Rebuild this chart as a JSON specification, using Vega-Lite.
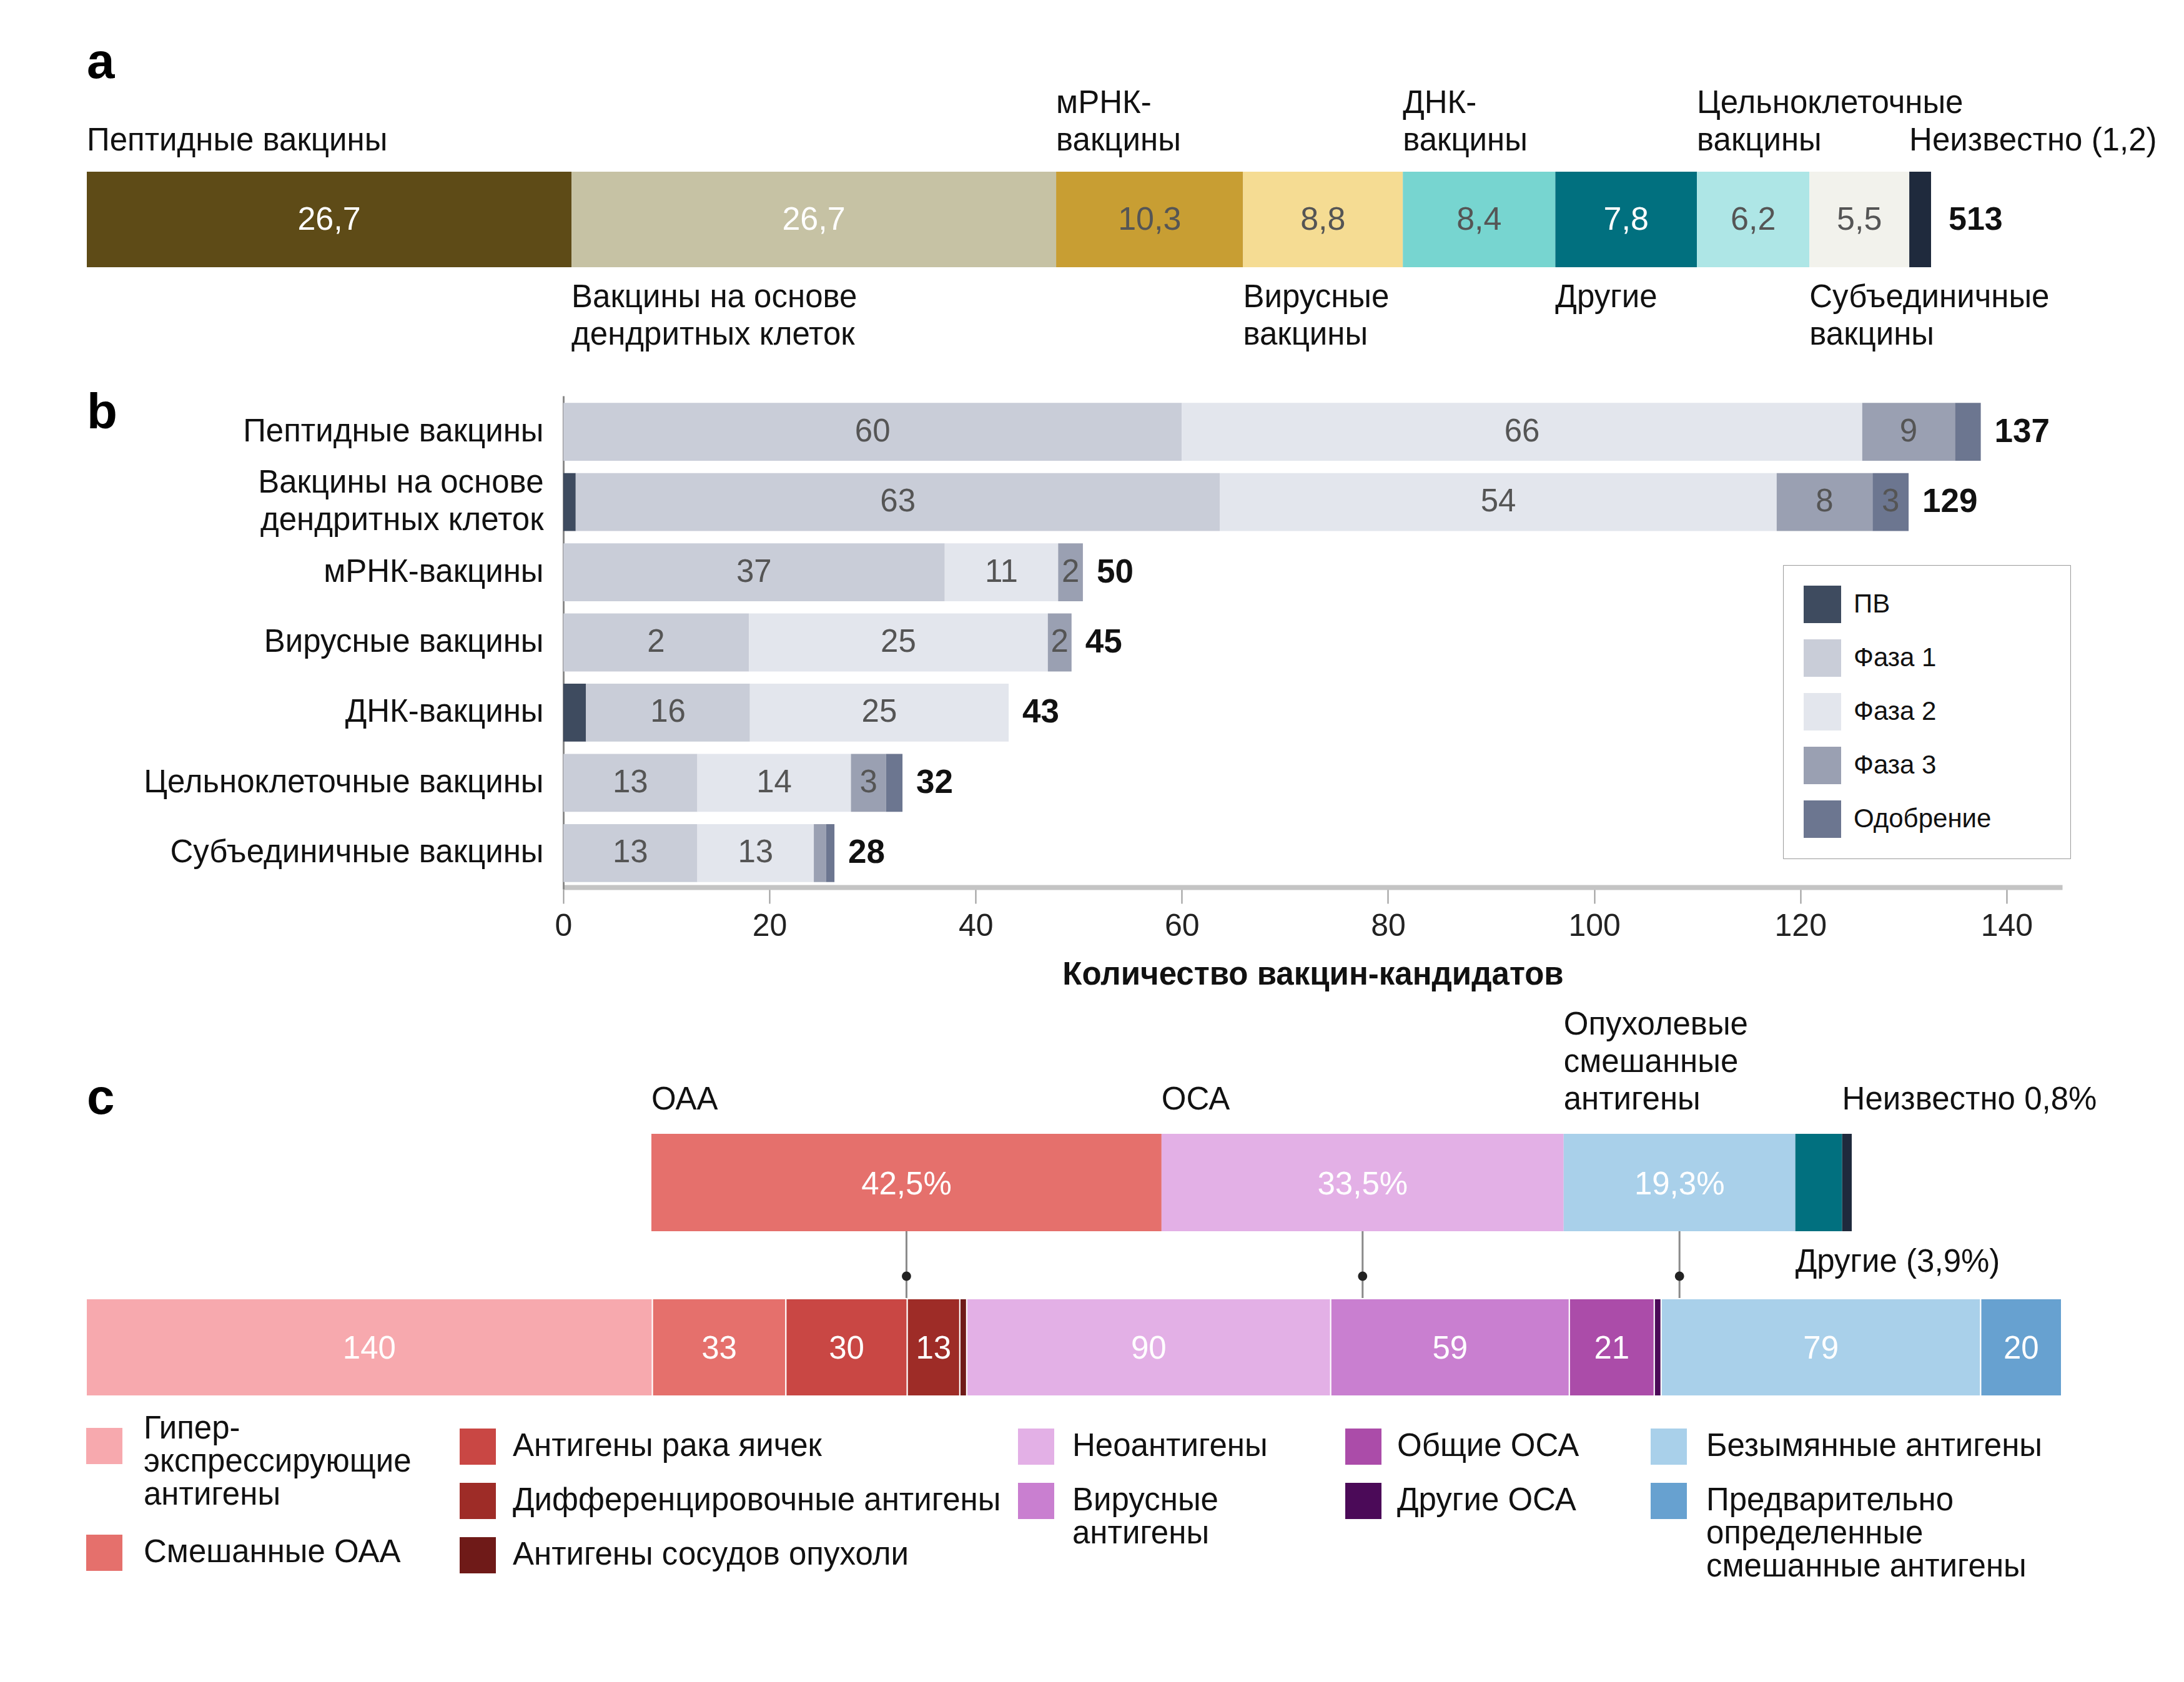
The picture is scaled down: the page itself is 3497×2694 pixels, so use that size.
{
  "$schema": "https://vega.github.io/schema/vega-lite/v6.json",
  "width": 3497,
  "height": 2694,
  "padding": 0,
  "autosize": {"type": "none"},
  "background": "white",
  "config": {
    "view": {"stroke": null},
    "font": "Liberation Sans",
    "text": {"font": "Liberation Sans", "fontSize": 51, "lineHeight": 60},
    "axis": {"labelFont": "Liberation Sans", "titleFont": "Liberation Sans"},
    "legend": {"labelFont": "Liberation Sans", "labelLimit": 3000}
  },
  "datasets": {
    "a": [
      {"name": "Пептидные вакцины", "pct": 26.7, "k": 1, "lab": "26,7", "top": "Пептидные вакцины", "top2": "", "bot": ""},
      {"name": "Вакцины на основе дендритных клеток", "pct": 26.7, "k": 2, "lab": "26,7", "top": "", "top2": "", "bot": "Вакцины на основе\nдендритных клеток"},
      {"name": "мРНК-вакцины", "pct": 10.3, "k": 3, "lab": "10,3", "top": "вакцины", "top2": "мРНК-", "bot": ""},
      {"name": "Вирусные вакцины", "pct": 8.8, "k": 4, "lab": "8,8", "top": "", "top2": "", "bot": "Вирусные\nвакцины"},
      {"name": "ДНК-вакцины", "pct": 8.4, "k": 5, "lab": "8,4", "top": "вакцины", "top2": "ДНК-", "bot": ""},
      {"name": "Другие", "pct": 7.8, "k": 6, "lab": "7,8", "top": "", "top2": "", "bot": "Другие"},
      {"name": "Цельноклеточные вакцины", "pct": 6.2, "k": 7, "lab": "6,2", "top": "вакцины", "top2": "Цельноклеточные", "bot": ""},
      {"name": "Субъединичные вакцины", "pct": 5.5, "k": 8, "lab": "5,5", "top": "", "top2": "", "bot": "Субъединичные\nвакцины"},
      {"name": "Неизвестно", "pct": 1.2, "k": 9, "lab": "", "top": "Неизвестно (1,2)", "top2": "", "bot": ""}
    ],
    "b": [
      {"vaccine": "Пептидные вакцины", "phase": "Фаза 1", "k": 1, "value": 60, "label": "60"},
      {"vaccine": "Пептидные вакцины", "phase": "Фаза 2", "k": 2, "value": 66, "label": "66"},
      {"vaccine": "Пептидные вакцины", "phase": "Фаза 3", "k": 3, "value": 9, "label": "9"},
      {"vaccine": "Пептидные вакцины", "phase": "Одобрение", "k": 4, "value": 2.5, "label": ""},
      {"vaccine": "Вакцины на основе дендритных клеток", "phase": "ПВ", "k": 0, "value": 1.2, "label": ""},
      {"vaccine": "Вакцины на основе дендритных клеток", "phase": "Фаза 1", "k": 1, "value": 62.5, "label": "63"},
      {"vaccine": "Вакцины на основе дендритных клеток", "phase": "Фаза 2", "k": 2, "value": 54, "label": "54"},
      {"vaccine": "Вакцины на основе дендритных клеток", "phase": "Фаза 3", "k": 3, "value": 9.3, "label": "8"},
      {"vaccine": "Вакцины на основе дендритных клеток", "phase": "Одобрение", "k": 4, "value": 3.5, "label": "3"},
      {"vaccine": "мРНК-вакцины", "phase": "Фаза 1", "k": 1, "value": 37, "label": "37"},
      {"vaccine": "мРНК-вакцины", "phase": "Фаза 2", "k": 2, "value": 11, "label": "11"},
      {"vaccine": "мРНК-вакцины", "phase": "Фаза 3", "k": 3, "value": 2.4, "label": "2"},
      {"vaccine": "Вирусные вакцины", "phase": "Фаза 1", "k": 1, "value": 18, "label": "2"},
      {"vaccine": "Вирусные вакцины", "phase": "Фаза 2", "k": 2, "value": 29, "label": "25"},
      {"vaccine": "Вирусные вакцины", "phase": "Фаза 3", "k": 3, "value": 2.3, "label": "2"},
      {"vaccine": "ДНК-вакцины", "phase": "ПВ", "k": 0, "value": 2.2, "label": ""},
      {"vaccine": "ДНК-вакцины", "phase": "Фаза 1", "k": 1, "value": 15.9, "label": "16"},
      {"vaccine": "ДНК-вакцины", "phase": "Фаза 2", "k": 2, "value": 25.1, "label": "25"},
      {"vaccine": "Цельноклеточные вакцины", "phase": "Фаза 1", "k": 1, "value": 13, "label": "13"},
      {"vaccine": "Цельноклеточные вакцины", "phase": "Фаза 2", "k": 2, "value": 14.9, "label": "14"},
      {"vaccine": "Цельноклеточные вакцины", "phase": "Фаза 3", "k": 3, "value": 3.4, "label": "3"},
      {"vaccine": "Цельноклеточные вакцины", "phase": "Одобрение", "k": 4, "value": 1.6, "label": ""},
      {"vaccine": "Субъединичные вакцины", "phase": "Фаза 1", "k": 1, "value": 13, "label": "13"},
      {"vaccine": "Субъединичные вакцины", "phase": "Фаза 2", "k": 2, "value": 11.3, "label": "13"},
      {"vaccine": "Субъединичные вакцины", "phase": "Фаза 3", "k": 3, "value": 1.2, "label": ""},
      {"vaccine": "Субъединичные вакцины", "phase": "Одобрение", "k": 4, "value": 0.8, "label": ""}
    ],
    "btot": [
      {"vaccine": "Пептидные вакцины", "total": "137"},
      {"vaccine": "Вакцины на основе дендритных клеток", "total": "129"},
      {"vaccine": "мРНК-вакцины", "total": "50"},
      {"vaccine": "Вирусные вакцины", "total": "45"},
      {"vaccine": "ДНК-вакцины", "total": "43"},
      {"vaccine": "Цельноклеточные вакцины", "total": "32"},
      {"vaccine": "Субъединичные вакцины", "total": "28"}
    ],
    "ct": [
      {"name": "ОАА", "pct": 42.5, "k": 1, "lab": "42,5%", "top": "ОАА", "top2": "", "top3": "", "bot": "", "conn": true},
      {"name": "ОСА", "pct": 33.5, "k": 2, "lab": "33,5%", "top": "ОСА", "top2": "", "top3": "", "bot": "", "conn": true},
      {"name": "Опухолевые смешанные антигены", "pct": 19.3, "k": 3, "lab": "19,3%", "top": "антигены", "top2": "смешанные", "top3": "Опухолевые", "bot": "", "conn": true},
      {"name": "Другие", "pct": 3.9, "k": 4, "lab": "", "top": "", "top2": "", "top3": "", "bot": "Другие (3,9%)", "conn": false},
      {"name": "Неизвестно", "pct": 0.8, "k": 5, "lab": "", "top": "Неизвестно 0,8%", "top2": "", "top3": "", "bot": "", "conn": false}
    ],
    "cb": [
      {"name": "Гипер-экспрессирующие антигены", "n": 140, "k": 1, "lab": "140", "grp": 0},
      {"name": "Смешанные ОАА", "n": 33, "k": 2, "lab": "33", "grp": 1},
      {"name": "Антигены рака яичек", "n": 30, "k": 3, "lab": "30", "grp": 2},
      {"name": "Дифференцировочные антигены", "n": 13, "k": 4, "lab": "13", "grp": 2},
      {"name": "Антигены сосудов опухоли", "n": 1.7, "k": 5, "lab": "", "grp": 2},
      {"name": "Неоантигены", "n": 90, "k": 6, "lab": "90", "grp": 3},
      {"name": "Вирусные антигены", "n": 59, "k": 7, "lab": "59", "grp": 3},
      {"name": "Общие ОСА", "n": 21, "k": 8, "lab": "21", "grp": 4},
      {"name": "Другие ОСА", "n": 1.7, "k": 9, "lab": "", "grp": 4},
      {"name": "Безымянные антигены", "n": 79, "k": 10, "lab": "79", "grp": 5},
      {"name": "Предварительно определенные смешанные антигены", "n": 20, "k": 11, "lab": "20", "grp": 5}
    ]
  },
  "resolve": {"scale": {"x": "independent", "y": "independent", "color": "independent"}},
  "layer": [
    {
      "data": {"name": "a"},
      "layer": [
        {
          "mark": {"type": "bar"},
          "encoding": {
            "x": {"field": "pct", "type": "quantitative", "stack": "zero", "scale": {"domain": [0, 101.6], "range": [139, 3092], "nice": false, "zero": false}, "axis": null},
            "y": {"datum": "a", "type": "nominal", "scale": {"range": [275, 428], "paddingInner": 0, "paddingOuter": 0}, "axis": null},
            "color": {"field": "name", "type": "nominal", "legend": null,
              "scale": {"domain": ["Пептидные вакцины", "Вакцины на основе дендритных клеток", "мРНК-вакцины", "Вирусные вакцины", "ДНК-вакцины", "Другие", "Цельноклеточные вакцины", "Субъединичные вакцины", "Неизвестно"],
                        "range": ["#5e4b17", "#c6c2a4", "#c89e33", "#f5dc93", "#77d5d0", "#01707f", "#aee6e6", "#f2f2ec", "#1f2a3d"]}},
            "order": {"field": "k", "type": "quantitative"}
          }
        },
        {
          "mark": {"type": "text", "fontSize": 52},
          "encoding": {
            "x": {"field": "pct", "type": "quantitative", "stack": "zero", "bandPosition": 0.5},
            "y": {"datum": "a", "type": "nominal"},
            "detail": {"field": "name", "type": "nominal"},
            "order": {"field": "k", "type": "quantitative"},
            "text": {"field": "lab", "type": "nominal"},
            "color": {"condition": {"test": "datum.k <= 2 || datum.k == 6", "value": "#ffffff"}, "value": "#555555"}
          }
        },
        {
          "mark": {"type": "text", "fontSize": 51, "align": "left", "baseline": "bottom", "dy": -100, "color": "#111111"},
          "encoding": {
            "x": {"field": "pct", "type": "quantitative", "stack": "zero", "bandPosition": 0},
            "y": {"datum": "a", "type": "nominal"},
            "detail": {"field": "name", "type": "nominal"},
            "order": {"field": "k", "type": "quantitative"},
            "text": {"field": "top", "type": "nominal"}
          }
        },
        {
          "mark": {"type": "text", "fontSize": 51, "align": "left", "baseline": "bottom", "dy": -160, "color": "#111111"},
          "encoding": {
            "x": {"field": "pct", "type": "quantitative", "stack": "zero", "bandPosition": 0},
            "y": {"datum": "a", "type": "nominal"},
            "detail": {"field": "name", "type": "nominal"},
            "order": {"field": "k", "type": "quantitative"},
            "text": {"field": "top2", "type": "nominal"}
          }
        },
        {
          "mark": {"type": "text", "fontSize": 51, "align": "left", "baseline": "top", "dy": 100, "lineBreak": "\n", "lineHeight": 60, "color": "#111111"},
          "encoding": {
            "x": {"field": "pct", "type": "quantitative", "stack": "zero", "bandPosition": 0},
            "y": {"datum": "a", "type": "nominal"},
            "detail": {"field": "name", "type": "nominal"},
            "order": {"field": "k", "type": "quantitative"},
            "text": {"field": "bot", "type": "nominal"}
          }
        },
        {
          "transform": [{"aggregate": [{"op": "sum", "field": "pct", "as": "tot"}], "groupby": []}],
          "mark": {"type": "text", "fontSize": 52, "fontWeight": "bold", "align": "left", "dx": 28, "color": "#111111"},
          "encoding": {
            "x": {"field": "tot", "type": "quantitative"},
            "y": {"datum": "a", "type": "nominal"},
            "text": {"value": "513"}
          }
        },
        {
          "data": {"values": [{"t": "a"}]},
          "mark": {"type": "text", "fontSize": 80, "fontWeight": "bold", "align": "left", "dy": -251, "color": "#000000"},
          "encoding": {"x": {"datum": 0, "type": "quantitative"}, "y": {"datum": "a", "type": "nominal"}, "text": {"field": "t", "type": "nominal"}}
        },
        {
          "data": {"values": [{"t": "b"}]},
          "mark": {"type": "text", "fontSize": 80, "fontWeight": "bold", "align": "left", "dy": 310, "color": "#000000"},
          "encoding": {"x": {"datum": 0, "type": "quantitative"}, "y": {"datum": "a", "type": "nominal"}, "text": {"field": "t", "type": "nominal"}}
        },
        {
          "data": {"values": [{"t": "c"}]},
          "mark": {"type": "text", "fontSize": 80, "fontWeight": "bold", "align": "left", "dy": 1408, "color": "#000000"},
          "encoding": {"x": {"datum": 0, "type": "quantitative"}, "y": {"datum": "a", "type": "nominal"}, "text": {"field": "t", "type": "nominal"}}
        }
      ]
    },
    {
      "data": {"name": "b"},
      "layer": [
        {
          "mark": {"type": "bar"},
          "encoding": {
            "y": {"field": "vaccine", "type": "nominal", "title": null, "sort": null,
              "scale": {"domain": ["Пептидные вакцины", "Вакцины на основе дендритных клеток", "мРНК-вакцины", "Вирусные вакцины", "ДНК-вакцины", "Цельноклеточные вакцины", "Субъединичные вакцины"], "range": [634, 1424], "paddingInner": 0.175, "paddingOuter": 0.1},
              "axis": {"orient": "left", "offset": -902, "title": null, "ticks": false, "domainColor": "#8a8a8a", "domainWidth": 3, "labelFontSize": 51, "labelColor": "#111111", "labelPadding": 32, "labelLimit": 2000, "labelLineHeight": 60,
                       "labelBaseline": {"condition": {"test": "datum.value == 'Вакцины на основе дендритных клеток'", "value": "line-bottom"}, "value": "middle"},
                       "labelExpr": "datum.value == 'Вакцины на основе дендритных клеток' ? ['Вакцины на основе', 'дендритных клеток'] : datum.label"}},
            "x": {"field": "value", "type": "quantitative", "stack": "zero", "title": "Количество вакцин-кандидатов",
              "scale": {"domain": [0, 145.4], "range": [902, 3302], "nice": false, "zero": false},
              "axis": {"orient": "bottom", "offset": -1273, "values": [0, 20, 40, 60, 80, 100, 120, 140], "grid": false, "domainColor": "#c4c4c4", "domainWidth": 8, "tickColor": "#9a9a9a", "tickWidth": 2, "tickSize": 26, "labelFontSize": 50, "labelColor": "#222222", "labelPadding": 11, "labelFlush": false, "titleFontSize": 51, "titleFontWeight": "bold", "titleColor": "#111111", "titlePadding": 28}},
            "color": {"field": "phase", "type": "nominal",
              "scale": {"domain": ["ПВ", "Фаза 1", "Фаза 2", "Фаза 3", "Одобрение"], "range": ["#3e4b5f", "#c9cdd8", "#e3e6ed", "#9aa0b2", "#6c7690"]},
              "legend": {"orient": "none", "legendX": 2855, "legendY": 905, "direction": "vertical", "title": null, "symbolType": "square", "symbolSize": 3600, "symbolStrokeWidth": 0, "labelFontSize": 42, "labelColor": "#111111", "labelOffset": 20, "rowPadding": 26, "padding": 33, "strokeColor": "#9a9a9a",
                         "labelExpr": "datum.label + '\u2800\u2800\u2800'",
                         "encode": {"legend": {"strokeWidth": {"value": 3}}}}},
            "order": {"field": "k", "type": "quantitative"}
          }
        },
        {
          "mark": {"type": "text", "fontSize": 51, "color": "#555555"},
          "encoding": {
            "x": {"field": "value", "type": "quantitative", "stack": "zero", "bandPosition": 0.5, "title": "Количество вакцин-кандидатов"},
            "y": {"field": "vaccine", "type": "nominal", "title": null, "sort": null, "scale": {"domain": ["Пептидные вакцины", "Вакцины на основе дендритных клеток", "мРНК-вакцины", "Вирусные вакцины", "ДНК-вакцины", "Цельноклеточные вакцины", "Субъединичные вакцины"]}},
            "detail": {"field": "phase", "type": "nominal"},
            "order": {"field": "k", "type": "quantitative"},
            "text": {"field": "label", "type": "nominal"}
          }
        },
        {
          "transform": [
            {"aggregate": [{"op": "sum", "field": "value", "as": "end"}], "groupby": ["vaccine"]},
            {"lookup": "vaccine", "from": {"data": {"name": "btot"}, "key": "vaccine", "fields": ["total"]}}
          ],
          "mark": {"type": "text", "fontSize": 53, "fontWeight": "bold", "align": "left", "dx": 22, "color": "#111111"},
          "encoding": {
            "x": {"field": "end", "type": "quantitative", "title": "Количество вакцин-кандидатов"},
            "y": {"field": "vaccine", "type": "nominal", "title": null, "sort": null, "scale": {"domain": ["Пептидные вакцины", "Вакцины на основе дендритных клеток", "мРНК-вакцины", "Вирусные вакцины", "ДНК-вакцины", "Цельноклеточные вакцины", "Субъединичные вакцины"]}},
            "text": {"field": "total", "type": "nominal"}
          }
        }
      ]
    },
    {
      "resolve": {"scale": {"x": "independent", "color": "independent"}},
      "layer": [
        {
          "data": {"name": "ct"},
          "layer": [
            {
              "mark": {"type": "bar"},
              "encoding": {
                "x": {"field": "pct", "type": "quantitative", "stack": "zero", "scale": {"domain": [0, 100], "range": [1043, 2965], "nice": false, "zero": false}, "axis": null},
                "y": {"datum": "top", "type": "nominal", "scale": {"domain": ["top", "bottom"], "range": [1816, 2236], "paddingInner": 0.409, "paddingOuter": 0}, "axis": null},
                "color": {"field": "name", "type": "nominal", "legend": null,
                  "scale": {"domain": ["ОАА", "ОСА", "Опухолевые смешанные антигены", "Другие", "Неизвестно"], "range": ["#e5706c", "#e3b0e6", "#a9d0ea", "#01707f", "#1f2a3d"]}},
                "order": {"field": "k", "type": "quantitative"}
              }
            },
            {
              "mark": {"type": "text", "fontSize": 51, "color": "#ffffff", "dy": 4},
              "encoding": {
                "x": {"field": "pct", "type": "quantitative", "stack": "zero", "bandPosition": 0.5},
                "y": {"datum": "top", "type": "nominal"},
                "detail": {"field": "name", "type": "nominal"},
                "order": {"field": "k", "type": "quantitative"},
                "text": {"field": "lab", "type": "nominal"}
              }
            },
            {
              "mark": {"type": "text", "fontSize": 51, "align": "left", "baseline": "bottom", "dy": -106, "color": "#111111"},
              "encoding": {
                "x": {"field": "pct", "type": "quantitative", "stack": "zero", "bandPosition": 0},
                "y": {"datum": "top", "type": "nominal"},
                "detail": {"field": "name", "type": "nominal"},
                "order": {"field": "k", "type": "quantitative"},
                "text": {"field": "top", "type": "nominal"}
              }
            },
            {
              "mark": {"type": "text", "fontSize": 51, "align": "left", "baseline": "bottom", "dy": -166, "color": "#111111"},
              "encoding": {
                "x": {"field": "pct", "type": "quantitative", "stack": "zero", "bandPosition": 0},
                "y": {"datum": "top", "type": "nominal"},
                "detail": {"field": "name", "type": "nominal"},
                "order": {"field": "k", "type": "quantitative"},
                "text": {"field": "top2", "type": "nominal"}
              }
            },
            {
              "mark": {"type": "text", "fontSize": 51, "align": "left", "baseline": "bottom", "dy": -226, "color": "#111111"},
              "encoding": {
                "x": {"field": "pct", "type": "quantitative", "stack": "zero", "bandPosition": 0},
                "y": {"datum": "top", "type": "nominal"},
                "detail": {"field": "name", "type": "nominal"},
                "order": {"field": "k", "type": "quantitative"},
                "text": {"field": "top3", "type": "nominal"}
              }
            },
            {
              "mark": {"type": "text", "fontSize": 51, "align": "left", "baseline": "top", "dy": 103, "color": "#111111"},
              "encoding": {
                "x": {"field": "pct", "type": "quantitative", "stack": "zero", "bandPosition": 0},
                "y": {"datum": "top", "type": "nominal"},
                "detail": {"field": "name", "type": "nominal"},
                "order": {"field": "k", "type": "quantitative"},
                "text": {"field": "bot", "type": "nominal"}
              }
            },
            {
              "mark": {"type": "rule", "color": "#8a8a8a", "strokeWidth": 3, "y2Offset": -36},
              "encoding": {
                "x": {"field": "pct", "type": "quantitative", "stack": "zero", "bandPosition": 0.5},
                "y": {"datum": "top", "type": "nominal", "bandPosition": 1},
                "y2": {"datum": "bottom"},
                "detail": {"field": "name", "type": "nominal"},
                "order": {"field": "k", "type": "quantitative"},
                "strokeOpacity": {"condition": {"test": "datum.conn", "value": 1}, "value": 0}
              }
            },
            {
              "mark": {"type": "point", "filled": true, "shape": "circle", "size": 220, "color": "#222222", "yOffset": -36},
              "encoding": {
                "x": {"field": "pct", "type": "quantitative", "stack": "zero", "bandPosition": 0.5},
                "y": {"datum": "bottom", "type": "nominal", "bandPosition": 0},
                "detail": {"field": "name", "type": "nominal"},
                "order": {"field": "k", "type": "quantitative"},
                "opacity": {"condition": {"test": "datum.conn", "value": 1}, "value": 0}
              }
            }
          ]
        },
        {
          "data": {"name": "cb"},
          "resolve": {"scale": {"color": "independent"}},
          "layer": [
            {
              "transform": [{"stack": "n", "groupby": [], "sort": [{"field": "k", "order": "ascending"}], "as": ["s0", "s1"]}, {"filter": "datum.grp == 0"}],
              "mark": {"type": "bar", "stroke": "#ffffff", "strokeWidth": 2},
              "encoding": {
                "x": {"field": "s0", "type": "quantitative", "scale": {"domain": [0, 488.4], "range": [138, 3301], "nice": false, "zero": false}, "axis": null},
                "x2": {"field": "s1"},
                "y": {"datum": "bottom", "type": "nominal"},
                "color": {"field": "name", "type": "nominal",
                  "scale": {"domain": ["Гипер-экспрессирующие антигены"], "range": ["#f7a9ae"]},
                  "legend": {"orient": "none", "legendX": 138, "legendY": 2287, "direction": "vertical", "title": null, "symbolType": "square", "symbolSize": 3364, "symbolStrokeWidth": 0, "labelFontSize": 51, "labelColor": "#111111", "labelOffset": 34, "padding": 0, "labelBaseline": "line-bottom",
                             "labelExpr": "['Гипер-', 'экспрессирующие', 'антигены']",
                             "encode": {"labels": {"lineHeight": {"value": 60}}}}}
              }
            },
            {
              "transform": [{"stack": "n", "groupby": [], "sort": [{"field": "k", "order": "ascending"}], "as": ["s0", "s1"]}, {"filter": "datum.grp == 1"}],
              "mark": {"type": "bar", "stroke": "#ffffff", "strokeWidth": 2},
              "encoding": {
                "x": {"field": "s0", "type": "quantitative", "scale": {"domain": [0, 488.4], "range": [138, 3301], "nice": false, "zero": false}, "axis": null},
                "x2": {"field": "s1"},
                "y": {"datum": "bottom", "type": "nominal"},
                "color": {"field": "name", "type": "nominal",
                  "scale": {"domain": ["Смешанные ОАА"], "range": ["#e5706c"]},
                  "legend": {"orient": "none", "legendX": 138, "legendY": 2458, "direction": "vertical", "title": null, "symbolType": "square", "symbolSize": 3364, "symbolStrokeWidth": 0, "labelFontSize": 51, "labelColor": "#111111", "labelOffset": 34, "padding": 0}}
              }
            },
            {
              "transform": [{"stack": "n", "groupby": [], "sort": [{"field": "k", "order": "ascending"}], "as": ["s0", "s1"]}, {"filter": "datum.grp == 2"}],
              "mark": {"type": "bar", "stroke": "#ffffff", "strokeWidth": 2},
              "encoding": {
                "x": {"field": "s0", "type": "quantitative", "scale": {"domain": [0, 488.4], "range": [138, 3301], "nice": false, "zero": false}, "axis": null},
                "x2": {"field": "s1"},
                "y": {"datum": "bottom", "type": "nominal"},
                "color": {"field": "name", "type": "nominal",
                  "scale": {"domain": ["Антигены рака яичек", "Дифференцировочные антигены", "Антигены сосудов опухоли"], "range": ["#c94744", "#9e2c27", "#6f1a18"]},
                  "legend": {"orient": "none", "legendX": 736, "legendY": 2288, "direction": "vertical", "title": null, "symbolType": "square", "symbolSize": 3364, "symbolStrokeWidth": 0, "labelFontSize": 51, "labelColor": "#111111", "labelOffset": 27, "rowPadding": 29, "padding": 0}}
              }
            },
            {
              "transform": [{"stack": "n", "groupby": [], "sort": [{"field": "k", "order": "ascending"}], "as": ["s0", "s1"]}, {"filter": "datum.grp == 3"}],
              "mark": {"type": "bar", "stroke": "#ffffff", "strokeWidth": 2},
              "encoding": {
                "x": {"field": "s0", "type": "quantitative", "scale": {"domain": [0, 488.4], "range": [138, 3301], "nice": false, "zero": false}, "axis": null},
                "x2": {"field": "s1"},
                "y": {"datum": "bottom", "type": "nominal"},
                "color": {"field": "name", "type": "nominal",
                  "scale": {"domain": ["Неоантигены", "Вирусные антигены"], "range": ["#e3b0e6", "#c97fd0"]},
                  "legend": {"orient": "none", "legendX": 1630, "legendY": 2288, "direction": "vertical", "title": null, "symbolType": "square", "symbolSize": 3364, "symbolStrokeWidth": 0, "labelFontSize": 51, "labelColor": "#111111", "labelOffset": 29, "rowPadding": 29, "padding": 0,
                             "labelExpr": "datum.label == 'Вирусные антигены' ? ['Вирусные', 'антигены'] : datum.label",
                             "encode": {"labels": {"lineHeight": {"value": 60}}}}}
              }
            },
            {
              "transform": [{"stack": "n", "groupby": [], "sort": [{"field": "k", "order": "ascending"}], "as": ["s0", "s1"]}, {"filter": "datum.grp == 4"}],
              "mark": {"type": "bar", "stroke": "#ffffff", "strokeWidth": 2},
              "encoding": {
                "x": {"field": "s0", "type": "quantitative", "scale": {"domain": [0, 488.4], "range": [138, 3301], "nice": false, "zero": false}, "axis": null},
                "x2": {"field": "s1"},
                "y": {"datum": "bottom", "type": "nominal"},
                "color": {"field": "name", "type": "nominal",
                  "scale": {"domain": ["Общие ОСА", "Другие ОСА"], "range": ["#ab4ca9", "#4b0a58"]},
                  "legend": {"orient": "none", "legendX": 2154, "legendY": 2288, "direction": "vertical", "title": null, "symbolType": "square", "symbolSize": 3364, "symbolStrokeWidth": 0, "labelFontSize": 51, "labelColor": "#111111", "labelOffset": 25, "rowPadding": 29, "padding": 0}}
              }
            },
            {
              "transform": [{"stack": "n", "groupby": [], "sort": [{"field": "k", "order": "ascending"}], "as": ["s0", "s1"]}, {"filter": "datum.grp == 5"}],
              "mark": {"type": "bar", "stroke": "#ffffff", "strokeWidth": 2},
              "encoding": {
                "x": {"field": "s0", "type": "quantitative", "scale": {"domain": [0, 488.4], "range": [138, 3301], "nice": false, "zero": false}, "axis": null},
                "x2": {"field": "s1"},
                "y": {"datum": "bottom", "type": "nominal"},
                "color": {"field": "name", "type": "nominal",
                  "scale": {"domain": ["Безымянные антигены", "Предварительно определенные смешанные антигены"], "range": ["#a9d0ea", "#67a1d0"]},
                  "legend": {"orient": "none", "legendX": 2643, "legendY": 2288, "direction": "vertical", "title": null, "symbolType": "square", "symbolSize": 3364, "symbolStrokeWidth": 0, "labelFontSize": 51, "labelColor": "#111111", "labelOffset": 31, "rowPadding": 29, "padding": 0,
                             "labelExpr": "datum.label == 'Предварительно определенные смешанные антигены' ? ['Предварительно', 'определенные', 'смешанные антигены'] : datum.label",
                             "encode": {"labels": {"lineHeight": {"value": 60}}}}}
              }
            },
            {
              "mark": {"type": "text", "fontSize": 51, "color": "#ffffff", "dy": 3},
              "encoding": {
                "x": {"field": "n", "type": "quantitative", "stack": "zero", "bandPosition": 0.5},
                "y": {"datum": "bottom", "type": "nominal"},
                "detail": {"field": "name", "type": "nominal"},
                "order": {"field": "k", "type": "quantitative"},
                "text": {"field": "lab", "type": "nominal"}
              }
            }
          ]
        }
      ]
    }
  ]
}
